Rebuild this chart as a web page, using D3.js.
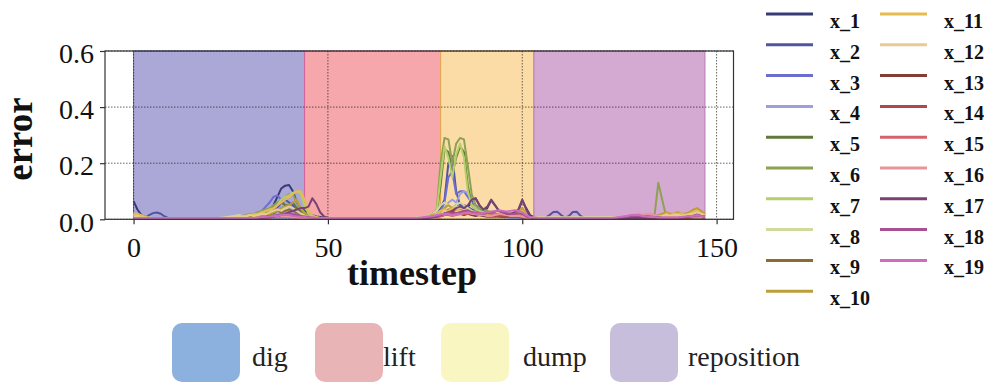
<!DOCTYPE html>
<html>
<head>
<meta charset="utf-8">
<script src="https://cdn.jsdelivr.net/npm/d3@7"></script>
<style>
  html, body { margin: 0; padding: 0; background: #fff; }
  svg { display: block; }
</style>
</head>
<body>
<svg id="chart" width="990" height="383"></svg>
<script>
// ---- data -------------------------------------------------------------
const timesteps = d3.range(0, 148);

const x_1 = [
 .065,.035,.015,.008,.005,.004,.003,.003,.003,.003,
 .003,.003,.002,.002,.002,.002,.002,.002,.002,.002,
 .002,.002,.002,.002,.002,.003,.003,.004,.005,.006,
 .008,.010,.012,.015,.020,.030,.050,.080,.110,.120,
 .122,.100,.060,.040,.030,.020,.015,.010,.008,.006,
 .005,.004,.003,.003,.002,.002,.002,.002,.002,.002,
 .002,.002,.002,.002,.002,.002,.002,.002,.002,.002,
 .002,.002,.002,.003,.004,.006,.008,.010,.015,.020,
 .025,.030,.040,.050,.055,.050,.045,.060,.075,.050,
 .030,.040,.068,.050,.030,.025,.020,.015,.020,.030,
 .068,.040,.015,.008,.005,.004,.003,.003,.003,.003,
 .003,.003,.003,.003,.003,.003,.003,.003,.003,.003,
 .003,.003,.003,.003,.003,.003,.003,.003,.003,.003,
 .003,.003,.003,.004,.005,.006,.005,.004,.004,.004,
 .004,.005,.006,.008,.010,.012,.015,.020];
const x_2 = [
 .010,.008,.006,.005,.015,.022,.024,.020,.010,.004,
 .003,.003,.003,.003,.003,.003,.003,.003,.003,.003,
 .003,.003,.003,.003,.003,.003,.003,.003,.003,.003,
 .004,.005,.006,.008,.010,.015,.025,.040,.060,.070,
 .060,.050,.030,.020,.010,.008,.005,.004,.003,.003,
 .002,.002,.002,.002,.002,.002,.002,.002,.002,.002,
 .002,.002,.002,.002,.002,.002,.002,.002,.002,.002,
 .002,.002,.002,.003,.005,.008,.012,.020,.030,.040,
 .070,.200,.225,.100,.050,.040,.045,.035,.030,.025,
 .020,.020,.025,.020,.015,.012,.010,.010,.012,.015,
 .020,.012,.008,.005,.004,.004,.006,.015,.026,.027,
 .015,.005,.012,.026,.027,.012,.004,.003,.003,.003,
 .003,.003,.003,.003,.003,.003,.003,.003,.003,.003,
 .003,.003,.003,.003,.003,.003,.003,.003,.003,.003,
 .003,.004,.005,.006,.008,.010,.012,.015];
const x_3 = [
 .005,.004,.004,.004,.004,.004,.004,.004,.004,.004,
 .004,.004,.004,.004,.004,.004,.004,.004,.004,.004,
 .004,.004,.004,.004,.004,.005,.006,.007,.008,.010,
 .012,.015,.020,.030,.045,.060,.080,.085,.070,.050,
 .040,.030,.020,.010,.006,.004,.003,.003,.002,.002,
 .002,.002,.002,.002,.002,.002,.002,.002,.002,.002,
 .002,.002,.002,.002,.002,.002,.002,.002,.002,.002,
 .002,.002,.002,.003,.004,.006,.008,.010,.015,.030,
 .060,.150,.170,.090,.100,.100,.080,.060,.050,.040,
 .030,.025,.020,.020,.015,.012,.010,.010,.010,.010,
 .008,.006,.005,.004,.004,.004,.004,.004,.004,.004,
 .004,.004,.004,.004,.004,.004,.004,.004,.004,.004,
 .004,.004,.004,.004,.004,.004,.004,.004,.004,.004,
 .004,.004,.004,.004,.004,.004,.004,.004,.004,.004,
 .004,.004,.005,.005,.006,.008,.010,.012];
const x_4 = [
 .004,.004,.004,.004,.004,.004,.004,.004,.004,.004,
 .004,.004,.004,.004,.004,.004,.004,.004,.004,.004,
 .004,.004,.004,.004,.004,.004,.004,.005,.006,.007,
 .008,.010,.012,.015,.020,.025,.030,.035,.045,.050,
 .045,.035,.025,.015,.008,.005,.004,.003,.003,.003,
 .003,.003,.003,.003,.003,.003,.003,.003,.003,.003,
 .003,.003,.003,.003,.003,.003,.003,.003,.003,.003,
 .003,.003,.003,.003,.004,.005,.006,.008,.010,.020,
 .040,.060,.070,.060,.090,.100,.095,.080,.050,.030,
 .025,.020,.015,.012,.010,.008,.006,.005,.005,.005,
 .005,.004,.004,.004,.004,.004,.004,.004,.004,.004,
 .004,.004,.004,.004,.004,.004,.004,.004,.004,.004,
 .004,.004,.004,.004,.004,.004,.004,.004,.004,.004,
 .004,.004,.004,.004,.004,.004,.004,.004,.004,.004,
 .004,.004,.004,.005,.006,.008,.010,.012];
const x_5 = [
 .015,.012,.008,.005,.004,.004,.004,.004,.004,.004,
 .004,.004,.004,.004,.004,.004,.004,.004,.004,.004,
 .004,.004,.004,.004,.004,.005,.006,.007,.008,.010,
 .010,.012,.015,.018,.020,.030,.040,.050,.060,.050,
 .050,.060,.040,.030,.020,.010,.006,.004,.003,.003,
 .003,.003,.003,.003,.003,.003,.003,.003,.003,.003,
 .003,.003,.003,.003,.003,.003,.003,.003,.003,.003,
 .003,.003,.003,.004,.006,.008,.012,.020,.030,.120,
 .250,.240,.160,.220,.260,.240,.120,.050,.035,.030,
 .025,.020,.018,.015,.012,.010,.010,.010,.010,.010,
 .008,.006,.005,.005,.005,.005,.005,.005,.005,.005,
 .005,.005,.005,.005,.005,.005,.005,.005,.005,.005,
 .005,.005,.005,.005,.005,.005,.005,.005,.005,.005,
 .005,.005,.005,.005,.005,.005,.005,.005,.005,.005,
 .005,.006,.006,.007,.008,.010,.012,.015];
const x_6 = [
 .020,.018,.012,.006,.004,.004,.003,.003,.003,.003,
 .003,.003,.003,.003,.003,.003,.003,.003,.003,.003,
 .003,.003,.003,.004,.005,.006,.008,.010,.012,.015,
 .018,.020,.025,.030,.035,.040,.050,.060,.070,.080,
 .090,.090,.060,.040,.025,.015,.010,.006,.004,.003,
 .003,.003,.003,.003,.003,.003,.003,.003,.003,.003,
 .003,.003,.003,.003,.003,.003,.003,.003,.003,.003,
 .003,.003,.003,.004,.005,.007,.010,.015,.035,.200,
 .290,.285,.200,.270,.290,.285,.190,.090,.050,.040,
 .035,.030,.025,.020,.018,.015,.012,.010,.010,.010,
 .008,.006,.005,.004,.004,.004,.004,.004,.004,.004,
 .004,.004,.004,.004,.004,.004,.004,.004,.004,.004,
 .004,.004,.004,.004,.004,.004,.004,.004,.004,.004,
 .004,.004,.004,.006,.010,.130,.070,.012,.008,.006,
 .006,.006,.006,.006,.006,.006,.006,.006];
const x_7 = [
 .020,.015,.010,.006,.004,.003,.003,.003,.003,.003,
 .003,.003,.003,.003,.003,.003,.003,.003,.003,.003,
 .003,.003,.003,.004,.005,.006,.007,.008,.009,.010,
 .010,.012,.015,.020,.025,.030,.040,.050,.070,.080,
 .085,.095,.100,.090,.050,.020,.010,.006,.004,.003,
 .003,.003,.003,.003,.003,.003,.003,.003,.003,.003,
 .003,.003,.003,.003,.003,.003,.003,.003,.003,.003,
 .003,.003,.003,.004,.005,.008,.010,.020,.030,.150,
 .260,.220,.150,.230,.270,.220,.100,.050,.035,.030,
 .025,.020,.020,.015,.015,.012,.010,.010,.012,.015,
 .012,.010,.008,.006,.005,.005,.005,.005,.005,.005,
 .005,.005,.005,.005,.005,.005,.005,.005,.005,.005,
 .005,.005,.005,.005,.005,.005,.005,.005,.005,.005,
 .005,.005,.005,.005,.006,.010,.008,.010,.015,.012,
 .015,.018,.015,.020,.025,.030,.025,.020];
const x_8 = [
 .015,.012,.010,.008,.006,.005,.005,.005,.005,.005,
 .005,.005,.005,.005,.005,.005,.005,.005,.005,.005,
 .005,.005,.005,.006,.008,.010,.012,.015,.012,.010,
 .012,.015,.018,.015,.020,.025,.030,.028,.035,.040,
 .035,.030,.025,.020,.015,.010,.008,.006,.005,.005,
 .005,.005,.005,.005,.005,.005,.005,.005,.005,.005,
 .005,.005,.005,.005,.005,.005,.005,.005,.005,.005,
 .005,.005,.005,.006,.008,.010,.015,.020,.030,.050,
 .060,.050,.040,.050,.060,.050,.040,.030,.025,.020,
 .018,.015,.015,.012,.012,.010,.010,.010,.010,.010,
 .008,.006,.006,.006,.006,.006,.006,.006,.006,.006,
 .006,.006,.006,.006,.006,.006,.006,.006,.006,.006,
 .006,.006,.006,.006,.006,.006,.006,.006,.006,.006,
 .006,.006,.006,.006,.008,.010,.012,.015,.012,.015,
 .018,.015,.012,.015,.020,.022,.018,.015];
const x_9 = [
 .005,.005,.005,.005,.005,.005,.005,.005,.005,.005,
 .004,.004,.004,.004,.004,.004,.004,.004,.004,.004,
 .004,.004,.004,.004,.004,.004,.005,.006,.008,.010,
 .010,.012,.010,.015,.020,.025,.020,.030,.025,.030,
 .035,.030,.025,.015,.010,.006,.005,.004,.004,.004,
 .003,.003,.003,.003,.003,.003,.003,.003,.003,.003,
 .003,.003,.003,.003,.003,.003,.003,.003,.003,.003,
 .003,.003,.003,.004,.005,.006,.008,.010,.015,.025,
 .030,.035,.030,.025,.030,.025,.020,.020,.015,.015,
 .012,.010,.010,.010,.008,.008,.008,.008,.008,.010,
 .010,.008,.006,.005,.004,.004,.004,.004,.004,.004,
 .004,.004,.004,.004,.004,.004,.004,.004,.004,.004,
 .004,.004,.004,.004,.004,.004,.004,.004,.004,.004,
 .004,.004,.004,.004,.005,.006,.008,.010,.010,.010,
 .012,.012,.010,.012,.015,.020,.015,.012];
const x_10 = [
 .010,.008,.006,.005,.004,.004,.004,.004,.004,.004,
 .004,.004,.004,.004,.004,.004,.004,.004,.004,.004,
 .004,.004,.004,.004,.004,.005,.006,.008,.010,.012,
 .015,.012,.010,.015,.020,.018,.025,.030,.040,.045,
 .050,.060,.070,.040,.020,.010,.006,.004,.003,.003,
 .003,.003,.003,.003,.003,.003,.003,.003,.003,.003,
 .003,.003,.003,.003,.003,.003,.003,.003,.003,.003,
 .003,.003,.003,.004,.006,.008,.012,.016,.020,.030,
 .040,.050,.040,.030,.035,.030,.030,.025,.020,.020,
 .020,.015,.015,.012,.010,.010,.010,.015,.020,.030,
 .040,.020,.008,.006,.005,.005,.005,.005,.005,.005,
 .005,.005,.005,.005,.005,.005,.005,.005,.005,.005,
 .005,.005,.005,.005,.005,.005,.005,.005,.005,.005,
 .005,.005,.006,.008,.010,.015,.020,.025,.020,.020,
 .025,.020,.020,.025,.035,.040,.030,.020];
const x_11 = [
 .020,.020,.015,.008,.005,.004,.004,.004,.004,.004,
 .004,.004,.004,.004,.004,.004,.004,.004,.004,.004,
 .004,.004,.004,.004,.004,.004,.005,.008,.010,.012,
 .015,.018,.020,.025,.030,.035,.040,.050,.060,.070,
 .080,.090,.100,.100,.070,.030,.015,.008,.005,.004,
 .004,.004,.004,.004,.004,.004,.004,.004,.004,.004,
 .004,.004,.004,.004,.004,.004,.004,.004,.004,.004,
 .004,.004,.004,.005,.006,.008,.010,.012,.020,.030,
 .035,.030,.040,.035,.030,.030,.035,.025,.020,.020,
 .015,.015,.012,.012,.010,.010,.010,.012,.015,.020,
 .030,.015,.008,.006,.005,.005,.005,.005,.005,.005,
 .005,.005,.005,.005,.005,.005,.005,.005,.005,.005,
 .005,.005,.005,.005,.005,.005,.005,.005,.005,.005,
 .005,.005,.005,.005,.006,.008,.010,.020,.015,.020,
 .020,.020,.015,.020,.025,.030,.020,.015];
const x_12 = [
 .010,.008,.006,.005,.005,.005,.005,.005,.005,.005,
 .005,.005,.005,.005,.005,.005,.005,.005,.005,.005,
 .005,.005,.005,.005,.006,.008,.010,.012,.010,.012,
 .015,.012,.015,.020,.018,.025,.030,.035,.030,.040,
 .045,.040,.030,.020,.012,.008,.006,.005,.005,.005,
 .005,.005,.005,.005,.005,.005,.005,.005,.005,.005,
 .005,.005,.005,.005,.005,.005,.005,.005,.005,.005,
 .005,.005,.005,.005,.006,.008,.010,.012,.015,.020,
 .030,.025,.020,.025,.030,.025,.020,.018,.015,.015,
 .012,.012,.010,.010,.010,.008,.008,.008,.008,.008,
 .008,.006,.006,.006,.006,.006,.006,.006,.006,.006,
 .006,.006,.006,.006,.006,.006,.006,.006,.006,.006,
 .006,.006,.006,.006,.006,.006,.006,.006,.006,.006,
 .006,.006,.006,.006,.008,.010,.012,.015,.012,.015,
 .015,.012,.015,.018,.020,.025,.020,.015];
const x_13 = [
 .003,.003,.003,.003,.003,.003,.003,.003,.003,.003,
 .003,.003,.003,.003,.003,.003,.003,.003,.003,.003,
 .003,.003,.003,.003,.003,.003,.003,.003,.003,.003,
 .003,.003,.004,.005,.006,.008,.010,.012,.015,.012,
 .015,.012,.010,.008,.006,.005,.004,.003,.003,.003,
 .003,.003,.003,.003,.003,.003,.003,.003,.003,.003,
 .003,.003,.003,.003,.003,.003,.003,.003,.003,.003,
 .003,.003,.003,.003,.004,.005,.006,.008,.010,.012,
 .015,.020,.015,.018,.020,.015,.020,.015,.012,.015,
 .012,.010,.010,.012,.010,.008,.008,.008,.008,.008,
 .006,.005,.004,.004,.004,.004,.004,.004,.004,.004,
 .004,.004,.004,.004,.004,.004,.004,.004,.004,.004,
 .004,.004,.004,.004,.004,.004,.004,.004,.004,.004,
 .004,.004,.004,.004,.004,.005,.006,.006,.006,.006,
 .006,.006,.006,.008,.010,.012,.010,.008];
const x_14 = [
 .003,.003,.003,.003,.003,.003,.003,.003,.003,.003,
 .003,.003,.003,.003,.003,.003,.003,.003,.003,.003,
 .003,.003,.003,.003,.003,.003,.003,.003,.003,.003,
 .003,.003,.003,.004,.005,.006,.008,.010,.012,.010,
 .010,.008,.006,.005,.004,.003,.003,.003,.003,.003,
 .003,.003,.003,.003,.003,.003,.003,.003,.003,.003,
 .003,.003,.003,.003,.003,.003,.003,.003,.003,.003,
 .003,.003,.003,.003,.004,.005,.006,.008,.010,.012,
 .015,.020,.025,.020,.025,.030,.032,.025,.020,.015,
 .015,.012,.010,.010,.012,.010,.008,.008,.008,.008,
 .006,.005,.004,.004,.004,.004,.004,.004,.004,.004,
 .004,.004,.004,.004,.004,.004,.004,.004,.004,.004,
 .004,.004,.004,.004,.004,.004,.004,.004,.004,.004,
 .004,.004,.004,.004,.004,.004,.004,.004,.004,.004,
 .004,.004,.004,.005,.006,.008,.006,.005];
const x_15 = [
 .004,.004,.004,.004,.004,.004,.004,.004,.004,.004,
 .004,.004,.004,.004,.004,.004,.004,.004,.004,.004,
 .004,.004,.004,.004,.004,.004,.004,.004,.004,.004,
 .004,.004,.004,.004,.005,.006,.008,.008,.010,.008,
 .008,.006,.005,.004,.004,.004,.004,.004,.004,.004,
 .004,.004,.004,.004,.004,.004,.004,.004,.004,.004,
 .004,.004,.004,.004,.004,.004,.004,.004,.004,.004,
 .004,.004,.004,.004,.004,.005,.006,.008,.010,.012,
 .015,.015,.012,.015,.018,.020,.020,.022,.025,.022,
 .020,.022,.020,.018,.020,.022,.020,.018,.015,.015,
 .010,.006,.005,.005,.005,.005,.005,.005,.005,.005,
 .005,.005,.005,.005,.005,.005,.005,.005,.005,.005,
 .005,.005,.005,.005,.005,.005,.006,.008,.010,.012,
 .012,.010,.008,.008,.008,.008,.008,.008,.008,.008,
 .008,.008,.008,.008,.008,.008,.008,.008];
const x_16 = [
 .004,.004,.004,.004,.004,.004,.004,.004,.004,.004,
 .004,.004,.004,.004,.004,.004,.004,.004,.004,.004,
 .004,.004,.004,.004,.004,.004,.004,.004,.004,.004,
 .004,.004,.004,.005,.006,.008,.010,.010,.012,.010,
 .010,.008,.006,.005,.004,.004,.004,.004,.004,.004,
 .004,.004,.004,.004,.004,.004,.004,.004,.004,.004,
 .004,.004,.004,.004,.004,.004,.004,.004,.004,.004,
 .004,.004,.004,.004,.005,.006,.008,.010,.012,.015,
 .018,.020,.015,.018,.020,.022,.025,.020,.018,.015,
 .015,.012,.012,.015,.018,.020,.015,.012,.012,.012,
 .010,.006,.005,.005,.005,.005,.005,.005,.005,.005,
 .005,.005,.005,.005,.005,.005,.005,.005,.005,.005,
 .005,.005,.005,.005,.005,.006,.008,.012,.015,.018,
 .020,.015,.018,.020,.015,.010,.008,.008,.008,.008,
 .008,.008,.008,.008,.010,.010,.008,.008];
const x_17 = [
 .003,.003,.003,.003,.003,.003,.003,.003,.003,.003,
 .003,.003,.003,.003,.003,.003,.003,.003,.003,.003,
 .003,.003,.003,.003,.003,.003,.003,.003,.003,.003,
 .003,.003,.004,.005,.006,.008,.010,.012,.015,.020,
 .025,.030,.035,.040,.040,.045,.075,.055,.025,.010,
 .005,.004,.003,.003,.003,.003,.003,.003,.003,.003,
 .003,.003,.003,.003,.003,.003,.003,.003,.003,.003,
 .003,.003,.003,.003,.004,.005,.006,.008,.010,.015,
 .020,.025,.030,.040,.045,.040,.050,.070,.075,.050,
 .035,.045,.070,.050,.030,.025,.020,.020,.025,.035,
 .070,.035,.010,.005,.004,.004,.004,.004,.004,.004,
 .004,.004,.004,.004,.004,.004,.004,.004,.004,.004,
 .004,.004,.004,.004,.004,.004,.004,.004,.004,.004,
 .004,.004,.004,.005,.006,.006,.005,.005,.005,.005,
 .005,.006,.008,.010,.012,.015,.012,.010];
const x_18 = [
 .004,.004,.004,.004,.004,.004,.004,.004,.004,.004,
 .004,.004,.004,.004,.004,.004,.004,.004,.004,.004,
 .004,.004,.004,.004,.004,.004,.004,.004,.004,.004,
 .004,.004,.005,.006,.008,.010,.012,.015,.018,.020,
 .020,.018,.015,.012,.010,.008,.006,.005,.004,.004,
 .004,.004,.004,.004,.004,.004,.004,.004,.004,.004,
 .004,.004,.004,.004,.004,.004,.004,.004,.004,.004,
 .004,.004,.004,.004,.005,.006,.008,.010,.012,.015,
 .020,.025,.020,.022,.025,.028,.030,.025,.022,.020,
 .020,.022,.025,.028,.030,.025,.022,.020,.020,.022,
 .020,.010,.006,.005,.004,.004,.004,.004,.004,.004,
 .004,.004,.004,.004,.004,.004,.004,.004,.004,.004,
 .004,.004,.004,.004,.005,.006,.008,.010,.012,.012,
 .012,.010,.012,.010,.008,.006,.005,.005,.005,.005,
 .005,.006,.008,.010,.012,.014,.012,.010];
const x_19 = [
 .005,.005,.005,.005,.005,.005,.005,.005,.005,.005,
 .005,.005,.005,.005,.005,.005,.005,.005,.005,.005,
 .005,.005,.005,.005,.005,.005,.005,.005,.005,.005,
 .005,.005,.006,.008,.010,.010,.012,.012,.015,.015,
 .015,.012,.010,.008,.008,.006,.006,.005,.005,.005,
 .005,.005,.005,.005,.005,.005,.005,.005,.005,.005,
 .005,.005,.005,.005,.005,.005,.005,.005,.005,.005,
 .005,.005,.005,.005,.006,.008,.010,.012,.015,.018,
 .020,.018,.015,.018,.020,.022,.025,.022,.020,.020,
 .022,.025,.028,.030,.032,.030,.028,.030,.032,.030,
 .025,.015,.008,.006,.005,.005,.005,.005,.005,.005,
 .005,.005,.005,.005,.005,.005,.005,.005,.005,.005,
 .005,.005,.005,.005,.006,.008,.010,.012,.015,.015,
 .015,.012,.010,.008,.008,.006,.006,.006,.006,.006,
 .006,.008,.010,.012,.012,.015,.012,.010];

const seriesNames = ["x_1","x_2","x_3","x_4","x_5","x_6","x_7","x_8","x_9","x_10",
                     "x_11","x_12","x_13","x_14","x_15","x_16","x_17","x_18","x_19"];
const seriesValues = [x_1,x_2,x_3,x_4,x_5,x_6,x_7,x_8,x_9,x_10,
                      x_11,x_12,x_13,x_14,x_15,x_16,x_17,x_18,x_19];

// task phases (timestep ranges)
const phaseNames = ["dig", "lift", "dump", "reposition"];
const phaseStart = [0, 44, 79, 103];
const phaseEnd   = [44, 79, 103, 147];

const xTicks = [0, 50, 100, 150];
const yTicks = [0, 0.2, 0.4, 0.6];

// ---- styles -----------------------------------------------------------
const lineColors = ["#393b79","#5254a3","#6b6ecf","#9c9ede","#637939","#8ca252","#b5cf6b",
                    "#cedb9c","#8c6d31","#bd9e39","#e7ba52","#e7cb94","#843c39","#ad494a",
                    "#d6616b","#e7969c","#7b4173","#a55194","#ce6dbd"];
const spanFill   = ["#aba7d6", "#f5a7ac", "#fbdca6", "#d5aad2"];
const spanEdge   = ["#6c68c4", "#d8649a", "#e8a64a", "#b67ab4"];
const boxFill    = ["#8db1de", "#e8b4b6", "#faf6c2", "#c7bedb"];

const serif = "'Liberation Serif', 'Times New Roman', serif";

// ---- layout -----------------------------------------------------------
const svg = d3.select("#chart");
const plot = { left: 105, right: 733.5, top: 51, bottom: 219.3 };

const x = d3.scaleLinear().domain([-7.35, 154.35]).range([plot.left, plot.right]);
const y = d3.scaleLinear().domain([0, 0.6]).range([plot.bottom, plot.top]);

svg.append("defs").append("clipPath").attr("id", "plotclip")
  .append("rect")
  .attr("x", plot.left).attr("y", plot.top)
  .attr("width", plot.right - plot.left).attr("height", plot.bottom - plot.top);

// phase spans
svg.append("g").selectAll("rect").data(phaseNames).join("rect")
  .attr("x", (d, i) => x(phaseStart[i]))
  .attr("width", (d, i) => x(phaseEnd[i]) - x(phaseStart[i]))
  .attr("y", y(0.6))
  .attr("height", y(0) - y(0.6))
  .attr("fill", (d, i) => spanFill[i])
  .attr("stroke", (d, i) => spanEdge[i])
  .attr("stroke-width", 1);

// grid
const grid = svg.append("g")
  .attr("stroke", "#222").attr("stroke-opacity", 0.7)
  .attr("stroke-width", 1).attr("stroke-dasharray", "1.5,1.5");
grid.selectAll("line.h").data(yTicks).join("line").attr("class", "h")
  .attr("x1", plot.left).attr("x2", plot.right)
  .attr("y1", d => y(d)).attr("y2", d => y(d));
grid.selectAll("line.v").data(xTicks).join("line").attr("class", "v")
  .attr("x1", d => x(d)).attr("x2", d => x(d))
  .attr("y1", plot.top).attr("y2", plot.bottom);

// series lines
const line = d3.line()
  .x((d, i) => x(timesteps[i]))
  .y(d => y(d));

svg.append("g").attr("clip-path", "url(#plotclip)")
  .selectAll("path").data(seriesValues).join("path")
  .attr("d", line)
  .attr("fill", "none")
  .attr("stroke", (d, i) => lineColors[i])
  .attr("stroke-width", 2)
  .attr("stroke-linejoin", "round");

// frame
svg.append("rect")
  .attr("x", plot.left).attr("y", plot.top)
  .attr("width", plot.right - plot.left).attr("height", plot.bottom - plot.top)
  .attr("fill", "none").attr("stroke", "#333").attr("stroke-width", 1.2);

// axes
const xAxis = svg.append("g")
  .attr("transform", `translate(0,${plot.bottom})`)
  .call(d3.axisBottom(x).tickValues(xTicks).tickFormat(d3.format("d")).tickSize(5).tickPadding(16));
const yAxis = svg.append("g")
  .attr("transform", `translate(${plot.left},0)`)
  .call(d3.axisLeft(y).tickValues(yTicks).tickFormat(d3.format(".1f")).tickSize(5).tickPadding(6));

[xAxis, yAxis].forEach(a => {
  a.select(".domain").remove();
  a.selectAll(".tick line").attr("stroke", "#333").attr("stroke-width", 1.2);
  a.selectAll(".tick text")
    .attr("fill", "#111")
    .style("font-family", serif)
    .style("font-size", "28px");
});
yAxis.selectAll(".tick text").attr("dy", "0.42em");
xAxis.selectAll(".tick text").attr("dy", "0.6em");

// axis titles
svg.append("text")
  .attr("x", 412).attr("y", 285)
  .attr("text-anchor", "middle")
  .style("font-family", serif).style("font-weight", "bold").style("font-size", "36px")
  .attr("fill", "#111")
  .text("timestep");

svg.append("text")
  .attr("transform", "translate(32,139) rotate(-90)")
  .attr("text-anchor", "middle")
  .style("font-family", serif).style("font-weight", "bold").style("font-size", "37px")
  .attr("fill", "#111")
  .text("error");

// series legend (two columns)
const legend = svg.append("g");
const rows = 10;
const legItems = legend.selectAll("g").data(seriesNames).join("g")
  .attr("transform", (d, i) => {
    const col = Math.floor(i / rows), row = i % rows;
    return `translate(${col ? 880 : 766},${14 + row * 30.8})`;
  });
legItems.append("line")
  .attr("x1", 0).attr("x2", 47).attr("y1", 0).attr("y2", 0)
  .attr("stroke", (d, i) => lineColors[i]).attr("stroke-width", 3);
legItems.append("text")
  .attr("x", 64).attr("y", 14)
  .style("font-family", serif).style("font-weight", "bold").style("font-size", "20px")
  .attr("fill", "#111")
  .text(d => d);

// phase legend
const boxX  = [172, 315, 441, 610];
const textX = [252, 383, 523, 688];
const phaseLeg = svg.append("g");
phaseLeg.selectAll("rect").data(phaseNames).join("rect")
  .attr("x", (d, i) => boxX[i]).attr("y", 323)
  .attr("width", 68).attr("height", 59)
  .attr("rx", 10).attr("ry", 10)
  .attr("fill", (d, i) => boxFill[i]);
phaseLeg.selectAll("text").data(phaseNames).join("text")
  .attr("x", (d, i) => textX[i]).attr("y", 366)
  .style("font-family", serif).style("font-size", "28px")
  .attr("fill", "#222")
  .text(d => d);
</script>
</body>
</html>
